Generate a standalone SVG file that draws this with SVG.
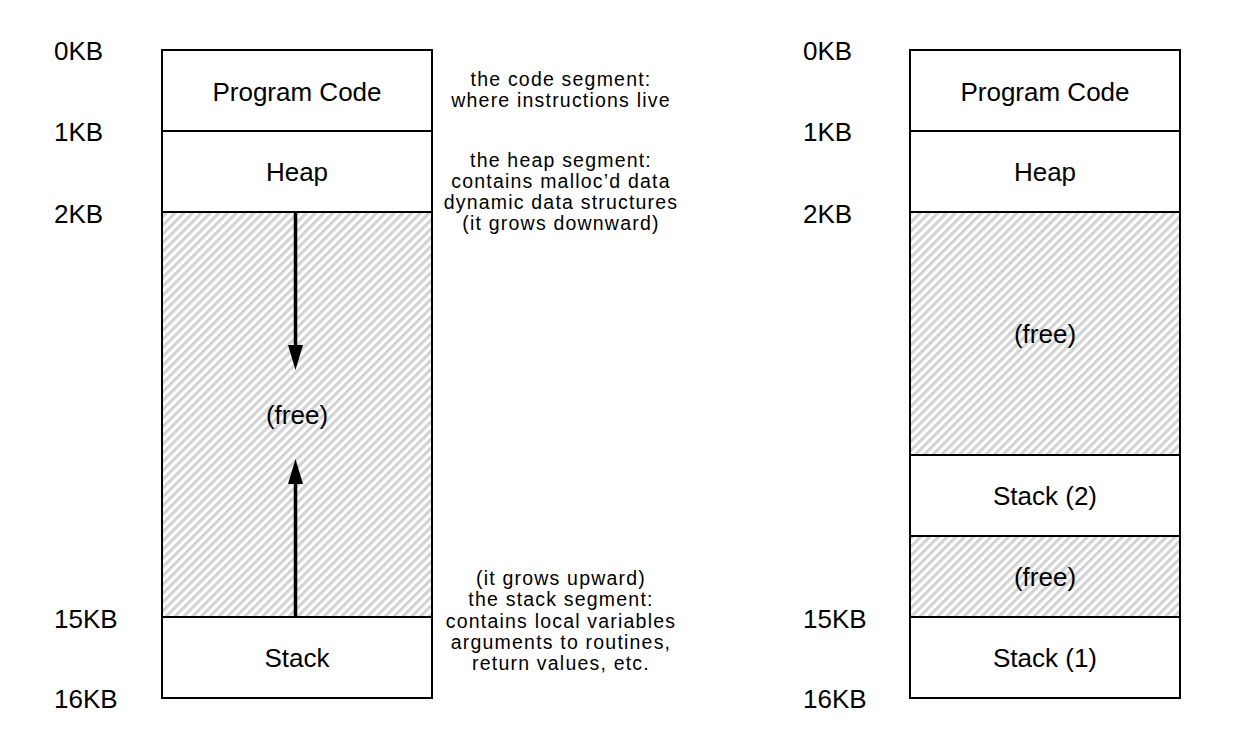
<svg xmlns="http://www.w3.org/2000/svg" width="1244" height="746" viewBox="0 0 1244 746">
  <defs>
    <pattern id="hatch" patternUnits="userSpaceOnUse" width="6.2" height="6.2" patternTransform="rotate(45)">
      <rect width="6.2" height="6.2" fill="#ffffff"/>
      <rect width="3.1" height="6.2" fill="#d2d2d2"/>
    </pattern>
  </defs>
  <style>
    .box { fill: #ffffff; stroke: #000; stroke-width: 2; }
    .free { fill: url(#hatch); stroke: #000; stroke-width: 2; }
    .lbl { font-family: "Liberation Sans", Arial, sans-serif; font-size: 26px; fill: #000; text-anchor: middle; }
    .kb { font-family: "Liberation Sans", Arial, sans-serif; font-size: 26px; fill: #000; }
    .note { font-family: "Liberation Sans", Arial, sans-serif; font-size: 19.5px; letter-spacing: 1.2px; fill: #000; text-anchor: middle; }
    .arrow { stroke: #000; stroke-width: 3.5; fill: none; }
  </style>
  <rect width="1244" height="746" fill="#ffffff"/>

  <!-- Left address space -->
  <g id="left-code">
    <rect class="box" x="162" y="50" width="270" height="81"/>
    <text class="lbl" x="297" y="101">Program Code</text>
  </g>
  <g id="left-heap">
    <rect class="box" x="162" y="131" width="270" height="81"/>
    <text class="lbl" x="297" y="181">Heap</text>
  </g>
  <g id="left-free">
    <rect class="free" x="162" y="212" width="270" height="405"/>
    <text class="lbl" x="297" y="424">(free)</text>
  </g>
  <g id="left-stack">
    <rect class="box" x="162" y="617" width="270" height="81"/>
    <text class="lbl" x="297" y="667">Stack</text>
  </g>

  <g id="connectors">
    <line class="arrow" x1="295.5" y1="212" x2="295.5" y2="348"/>
    <path d="M288,345 L303,345 L295.5,370 Z" fill="#000"/>
    <line class="arrow" x1="295.5" y1="617" x2="295.5" y2="481"/>
    <path d="M288,484 L303,484 L295.5,459 Z" fill="#000"/>
  </g>

  <g id="left-kb">
    <text class="kb" x="54" y="60">0KB</text>
    <text class="kb" x="54" y="141">1KB</text>
    <text class="kb" x="54" y="223">2KB</text>
    <text class="kb" x="54" y="628">15KB</text>
    <text class="kb" x="54" y="708">16KB</text>
  </g>

  <g id="notes">
    <text class="note" x="561" y="86">the code segment:</text>
    <text class="note" x="561" y="107.3">where instructions live</text>
    <text class="note" x="561" y="166.5">the heap segment:</text>
    <text class="note" x="561" y="187.8">contains malloc’d data</text>
    <text class="note" x="561" y="209.1">dynamic data structures</text>
    <text class="note" x="561" y="230.4">(it grows downward)</text>
    <text class="note" x="561" y="585">(it grows upward)</text>
    <text class="note" x="561" y="606.3">the stack segment:</text>
    <text class="note" x="561" y="627.6">contains local variables</text>
    <text class="note" x="561" y="648.9">arguments to routines,</text>
    <text class="note" x="561" y="670.2">return values, etc.</text>
  </g>

  <!-- Right address space -->
  <g id="right-code">
    <rect class="box" x="910" y="50" width="270" height="81"/>
    <text class="lbl" x="1045" y="101">Program Code</text>
  </g>
  <g id="right-heap">
    <rect class="box" x="910" y="131" width="270" height="81"/>
    <text class="lbl" x="1045" y="181">Heap</text>
  </g>
  <g id="right-free1">
    <rect class="free" x="910" y="212" width="270" height="243"/>
    <text class="lbl" x="1045" y="343">(free)</text>
  </g>
  <g id="right-stack2">
    <rect class="box" x="910" y="455" width="270" height="81"/>
    <text class="lbl" x="1045" y="505">Stack (2)</text>
  </g>
  <g id="right-free2">
    <rect class="free" x="910" y="536" width="270" height="81"/>
    <text class="lbl" x="1045" y="586">(free)</text>
  </g>
  <g id="right-stack1">
    <rect class="box" x="910" y="617" width="270" height="81"/>
    <text class="lbl" x="1045" y="667">Stack (1)</text>
  </g>

  <g id="right-kb">
    <text class="kb" x="803" y="60">0KB</text>
    <text class="kb" x="803" y="141">1KB</text>
    <text class="kb" x="803" y="223">2KB</text>
    <text class="kb" x="803" y="628">15KB</text>
    <text class="kb" x="803" y="708">16KB</text>
  </g>
</svg>
